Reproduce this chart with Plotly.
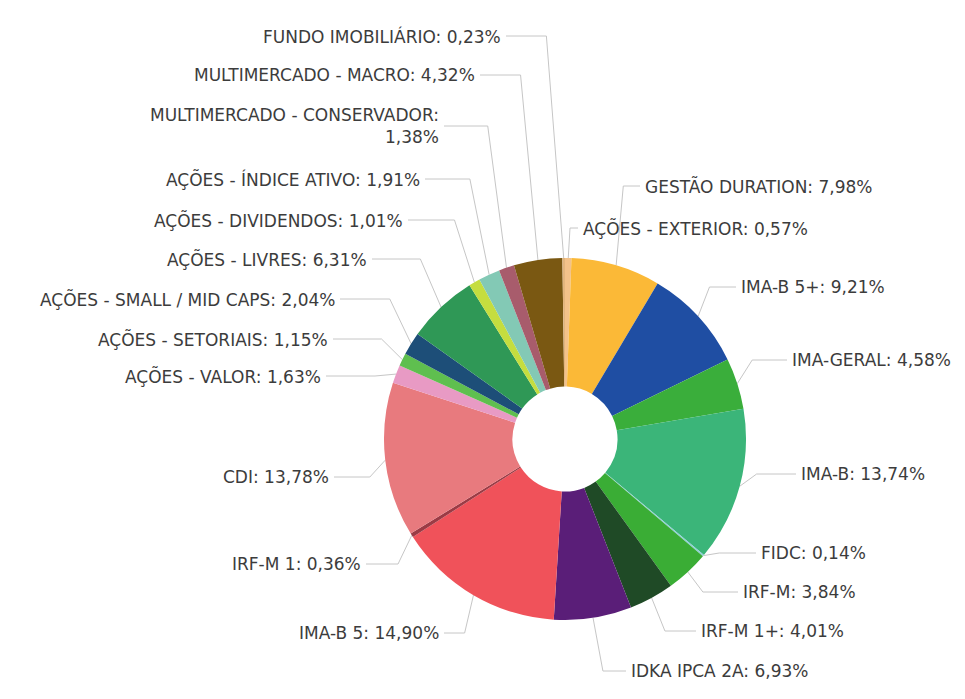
import math
import plotly.graph_objects as go

# ---------------- data ----------------
categories = [
    "AÇÕES - EXTERIOR", "GESTÃO DURATION", "IMA-B 5+", "IMA-GERAL", "IMA-B",
    "FIDC", "IRF-M", "IRF-M 1+", "IDKA IPCA 2A", "IMA-B 5", "IRF-M 1", "CDI",
    "AÇÕES - VALOR", "AÇÕES - SETORIAIS", "AÇÕES - SMALL / MID CAPS",
    "AÇÕES - LIVRES", "AÇÕES - DIVIDENDOS", "AÇÕES - ÍNDICE ATIVO",
    "MULTIMERCADO - CONSERVADOR", "MULTIMERCADO - MACRO", "FUNDO IMOBILIÁRIO",
]
shares = [
    0.57, 7.98, 9.21, 4.58, 13.74,
    0.14, 3.84, 4.01, 6.93, 14.90, 0.36, 13.78,
    1.63, 1.15, 2.04,
    6.31, 1.01, 1.91,
    1.38, 4.32, 0.23,
]
colors = [
    "#f3c28a", "#fbb937", "#1f4ea3", "#3aae3b", "#3bb579",
    "#8fd0d8", "#3aad35", "#1f4a26", "#5a1e78", "#f0525a", "#9b3b45", "#e87a7e",
    "#e89ac4", "#5fbf4f", "#1d4e78",
    "#2f9856", "#c5dd3f", "#83c9b5",
    "#a85c6c", "#7a5812", "#e2b57e",
]

# ---------------- layout (pixels in the 965x699 page) ----------------
W, H = 965, 699
CX, CY, R = 557, 431, 181
HOLE = 0.29

# label anchor: side, x of the text edge nearest the pie, y of the text centre
label_anchor = {
    "FUNDO IMOBILIÁRIO": ("L", 494, 28),
    "MULTIMERCADO - MACRO": ("L", 468, 67),
    "MULTIMERCADO - CONSERVADOR": ("L", 432, 118),
    "AÇÕES - ÍNDICE ATIVO": ("L", 413, 171),
    "AÇÕES - DIVIDENDOS": ("L", 396, 212),
    "AÇÕES - LIVRES": ("L", 360, 251),
    "AÇÕES - SMALL / MID CAPS": ("L", 328, 291),
    "AÇÕES - SETORIAIS": ("L", 321, 331),
    "AÇÕES - VALOR": ("L", 314, 368),
    "CDI": ("L", 322, 469),
    "IRF-M 1": ("L", 354, 556),
    "IMA-B 5": ("L", 432, 625),
    "GESTÃO DURATION": ("R", 636, 178),
    "AÇÕES - EXTERIOR": ("R", 574, 220),
    "IMA-B 5+": ("R", 732, 279),
    "IMA-GERAL": ("R", 783, 352),
    "IMA-B": ("R", 792, 466),
    "FIDC": ("R", 752, 545),
    "IRF-M": ("R", 734, 584),
    "IRF-M 1+": ("R", 692, 623),
    "IDKA IPCA 2A": ("R", 622, 663),
}
wrap = {"MULTIMERCADO - CONSERVADOR"}

FONT = dict(family="DejaVu Sans, Open Sans, sans-serif", size=17, color="#3c3c3c")
LINE_COLOR = "#c6c6c6"
CROOK = 0.7

fig = go.Figure()

fig.add_trace(go.Pie(
    labels=categories,
    values=shares,
    marker=dict(colors=colors, line=dict(width=0)),
    hole=HOLE,
    sort=False,
    direction="clockwise",
    rotation=0,
    textinfo="none",
    hoverinfo="label+percent",
    showlegend=False,
    domain=dict(x=[(CX - R) / W, (CX + R) / W], y=[1 - (CY + R) / H, 1 - (CY - R) / H]),
))

# leader lines from the slice edge (computed from the data) to the labels
total = sum(shares)
cum = 0.0
lx, ly = [], []
annotations = []
for cat, v in zip(categories, shares):
    mid = (cum + v / 2) / total
    cum += v
    th = 2 * math.pi * mid
    ex = CX + R * math.sin(th)
    ey = CY - R * math.cos(th)
    side, ax, ay = label_anchor[cat]
    sgn = -1 if side == "L" else 1          # direction from the pie towards the label
    start_x = ax - sgn * 4
    gap = sgn * (start_x - ex)               # horizontal distance label -> slice edge
    crook_x = start_x - sgn * max(8, CROOK * gap) if gap > 0 else start_x - sgn * 8
    lx += [start_x, crook_x, ex, None]
    ly += [ay, ay, ey, None]
    val = f"{v:.2f}".replace(".", ",") + "%"
    text = f"{cat}:<br>{val}" if cat in wrap else f"{cat}: {val}"
    annotations.append(dict(
        x=ax, y=ay, xref="x", yref="y", text=text, showarrow=False,
        xanchor="right" if side == "L" else "left", yanchor="middle",
        align="right" if side == "L" else "left", font=FONT,
        borderpad=0,
    ))

fig.add_trace(go.Scatter(
    x=lx, y=ly, mode="lines", line=dict(color=LINE_COLOR, width=1),
    hoverinfo="skip", showlegend=False,
))

fig.update_layout(
    width=W, height=H,
    margin=dict(l=0, r=0, t=0, b=0),
    paper_bgcolor="white", plot_bgcolor="rgba(0,0,0,0)",
    xaxis=dict(range=[0, W], visible=False, fixedrange=True, domain=[0, 1]),
    yaxis=dict(range=[H, 0], visible=False, fixedrange=True, domain=[0, 1]),
    annotations=annotations,
)

fig.write_html("out.html")
